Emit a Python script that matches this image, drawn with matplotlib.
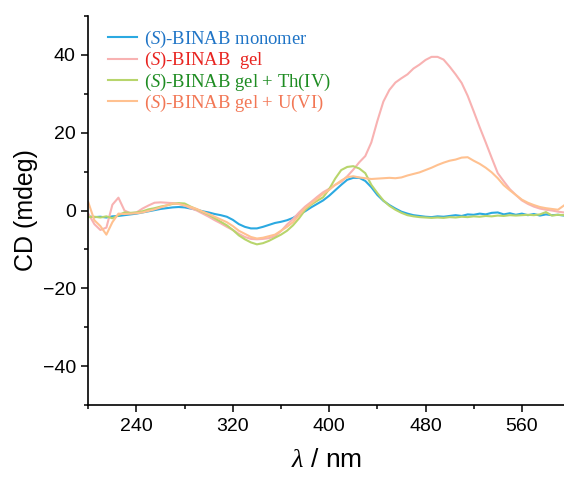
import numpy as np
import matplotlib
matplotlib.use('Agg')
import matplotlib.pyplot as plt
from matplotlib.ticker import MultipleLocator

plt.rcParams['font.family'] = ['Liberation Sans', 'DejaVu Sans']
plt.rcParams['mathtext.fontset'] = 'custom'
plt.rcParams['mathtext.it'] = 'Liberation Serif:italic'
plt.rcParams['mathtext.rm'] = 'Liberation Serif'

wavelength = np.arange(200, 600, 5)

monomer = [-1.5, -1.7, -1.6, -1.8, -1.5, -1.4, -1.2, -1.0, -0.8, -0.5,
           -0.2, 0.1, 0.4, 0.6, 0.8, 0.9, 0.8, 0.5, 0.2, -0.2,
           -0.5, -0.9, -1.2, -1.6, -2.4, -3.5, -4.2, -4.6, -4.6, -4.2,
           -3.7, -3.2, -2.9, -2.5, -1.9, -1.0, -0.2, 0.8, 1.7, 2.6,
           3.8, 5.2, 6.6, 7.9, 8.4, 8.4, 7.6, 6.0, 4.0, 2.5,
           1.4, 0.5, -0.3, -0.8, -1.2, -1.4, -1.6, -1.7, -1.5, -1.6,
           -1.4, -1.2, -1.4, -1.0, -1.1, -0.8, -1.0, -0.6, -0.5, -1.0,
           -0.7, -1.1, -0.8, -1.2, -0.9, -1.3, -1.0, -1.2, -1.1, -1.3]

gel = [-0.8, -3.5, -5.0, -4.4, 1.5, 3.3, 0.0, -0.7, -0.5, 0.5,
       1.3, 2.0, 2.1, 2.0, 1.9, 1.7, 1.3, 0.6, 0.0, -0.8,
       -1.6, -2.5, -3.3, -4.2, -5.0, -6.0, -6.8, -7.3, -7.4, -7.3,
       -7.1, -6.6, -5.3, -3.6, -2.2, -0.5, 1.0, 2.2, 3.5, 4.7,
       5.6, 6.6, 7.4, 8.8, 10.5, 12.4, 14.0, 17.5, 23.0, 28.0,
       31.0, 32.9, 34.0, 35.0, 36.5, 37.5, 38.7, 39.5, 39.5, 38.8,
       37.0, 35.0, 32.8, 29.5, 25.5, 21.4, 17.5, 13.5, 9.6, 7.5,
       5.5, 4.0, 2.6, 1.7, 1.0, 0.5, 0.2, 0.0, -0.3, -0.5]

gel_th = [-1.7, -1.6, -1.8, -1.5, -2.0, -1.2, -0.5, -0.6, -0.5, -0.2,
          0.3, 0.6, 1.0, 1.3, 1.7, 1.9, 1.8, 1.0, 0.3, -0.4,
          -1.1, -2.0, -2.9, -3.8, -5.0, -6.4, -7.4, -8.2, -8.7, -8.4,
          -7.8, -7.0, -6.2, -5.2, -3.8, -2.0, 0.1, 1.5, 2.5, 3.4,
          5.5, 8.2, 10.4, 11.2, 11.4, 10.8, 9.6, 6.6, 4.5, 2.6,
          1.2, 0.2, -0.6, -1.2, -1.5, -1.7, -1.8, -1.9, -1.8, -1.9,
          -1.7, -1.8, -1.6, -1.7, -1.5, -1.6, -1.4, -1.5, -1.3, -1.4,
          -1.2, -1.3, -1.2, -1.1, -1.2, -1.0, -0.4, -1.3, -1.1, -1.2]

gel_u = [2.1, -2.5, -4.0, -6.2, -3.0, -0.8, -0.9, -0.8, -0.7, -0.5,
         -0.1, 0.3, 0.8, 1.3, 1.8, 1.7, 1.3, 0.9, 0.4, -0.3,
         -0.9, -1.6, -2.3, -3.0, -4.0, -5.2, -6.0, -6.8, -7.2, -7.0,
         -6.6, -6.2, -5.2, -4.2, -3.0, -1.2, 0.6, 1.8, 3.0, 4.3,
         5.3, 6.6, 7.7, 8.6, 8.8, 8.5, 8.3, 8.1, 8.2, 8.3,
         8.4, 8.3, 8.5, 9.0, 9.4, 9.8, 10.4, 11.0, 11.7, 12.3,
         12.8, 13.1, 13.6, 13.7, 12.8, 12.0, 11.0, 9.8, 8.3, 6.5,
         5.2, 4.0, 2.8, 2.0, 1.4, 0.9, 0.6, 0.4, 0.2, 1.3]

labels = ['($\\mathit{S}$)-BINAB monomer', '($\\mathit{S}$)-BINAB  gel',
          '($\\mathit{S}$)-BINAB gel + Th(IV)', '($\\mathit{S}$)-BINAB gel + U(VI)']
line_colors = ['#2BA9E1', '#F8B2B2', '#B8D56C', '#FFC190']
text_colors = ['#1F74C6', '#E8231F', '#1E8C22', '#F27755']

fig = plt.figure(figsize=(5.64, 4.78), dpi=100)
ax = fig.add_axes([0.1566, 0.1527, 0.8434, 0.8138])

for ys, c, lab in zip([monomer, gel, gel_th, gel_u], line_colors, labels):
    ax.plot(wavelength, ys, color=c, lw=1.5, label=lab)

ax.set_xlim(200, 595)
ax.set_ylim(-50, 50)
ax.set_xticks([240, 320, 400, 480, 560])
ax.xaxis.set_minor_locator(MultipleLocator(40))
ax.yaxis.set_major_locator(MultipleLocator(20))
ax.yaxis.set_minor_locator(MultipleLocator(10))
ax.tick_params(which='major', direction='out', length=5, width=1.1, labelsize=14, pad=4)
ax.tick_params(which='minor', direction='out', length=3, width=1.1)
for s in ['top', 'right']:
    ax.spines[s].set_visible(False)
for s in ['left', 'bottom']:
    ax.spines[s].set_linewidth(1.2)

ax.set_xlabel('$\\lambda$ / nm', fontsize=19, labelpad=10)
ax.set_ylabel('CD (mdeg)', fontsize=18, labelpad=3)

leg = ax.legend(loc='upper left', bbox_to_anchor=(0.007, 1.01), frameon=False,
                prop={'family': 'Liberation Serif', 'size': 13.4},
                handlelength=1.56, handletextpad=0.35, labelspacing=0.01)
for t, c in zip(leg.get_texts(), text_colors):
    t.set_color(c)

fig.savefig('out.png', dpi=100)
